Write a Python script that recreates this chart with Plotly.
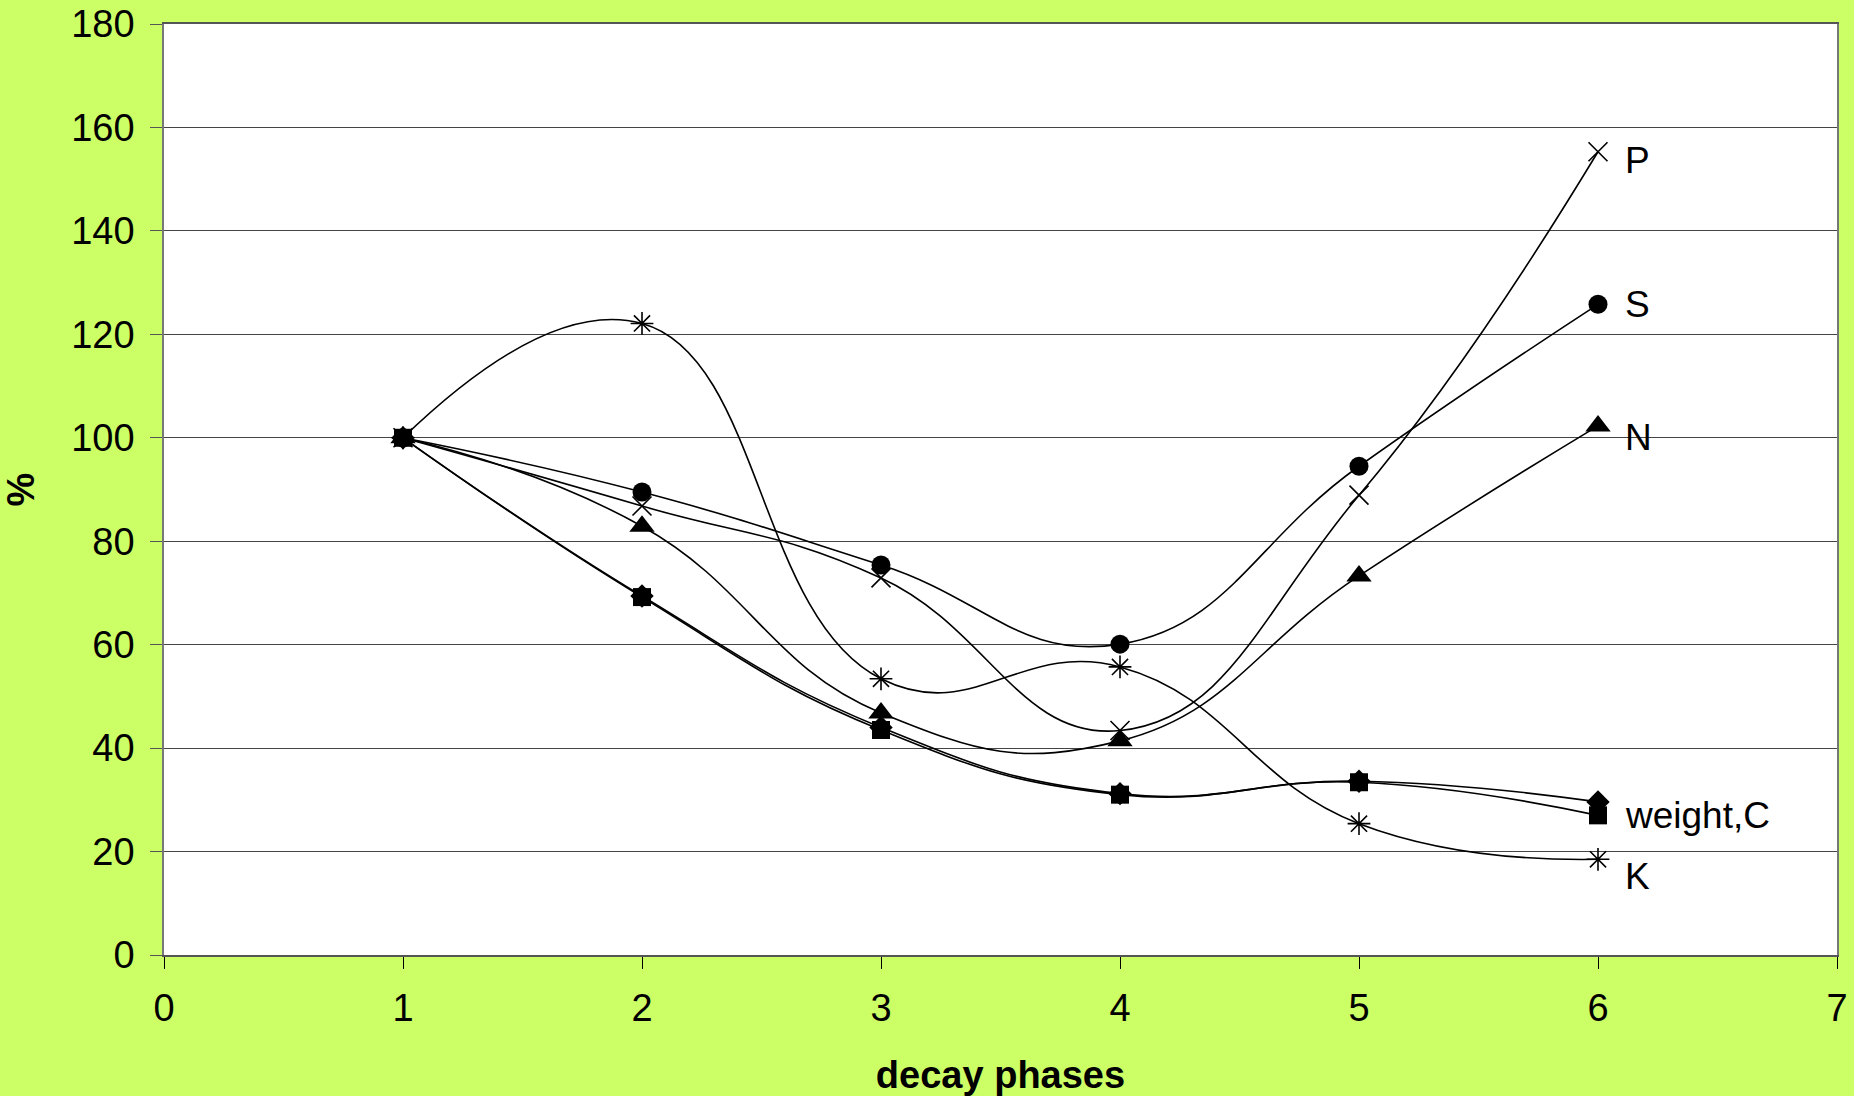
import plotly.graph_objects as go

# ---- data ----
phases = [1, 2, 3, 4, 5, 6]
P_vals = [100, 86.8, 72.9, 43.4, 88.9, 155.3]
S_vals = [100, 89.5, 75.4, 60.1, 94.5, 125.8]
N_vals = [100, 82.9, 46.8, 41.4, 73.3, 102.3]
K_vals = [100, 122.1, 53.4, 55.7, 25.4, 18.5]
weight_vals = [100, 69.4, 44.0, 31.2, 33.6, 29.6]
C_vals = [100, 69.2, 43.5, 31.0, 33.4, 27.0]

x_ticks = [0, 1, 2, 3, 4, 5, 6, 7]
y_ticks = [0, 20, 40, 60, 80, 100, 120, 140, 160, 180]

labels = ["P", "S", "N", "weight,C", "K"]
label_y = [153.7, 125.7, 100.0, 26.9, 15.1]

FONT = "Arial, 'Liberation Sans', sans-serif"
BG = "#CCFF66"

fig = go.Figure()

def add(vals, name, symbol, size, open_=False):
    marker = dict(symbol=symbol, size=size, color="black")
    if open_:
        marker["line"] = dict(color="black", width=1.6)
    fig.add_trace(go.Scatter(
        x=phases, y=vals, name=name, mode="lines+markers",
        line=dict(color="black", width=1.6, shape="spline", smoothing=1.3),
        marker=marker, showlegend=False,
    ))

add(K_vals, "K", "asterisk-open", 19, True)
add(P_vals, "P", "x-thin-open", 19, True)
add(S_vals, "S", "circle", 19)
add(N_vals, "N", "triangle-up", 22)
add(weight_vals, "weight", "diamond", 18)
add(C_vals, "C", "square", 18)

for t, yv in zip(labels, label_y):
    fig.add_annotation(x=6, y=yv, text=t, showarrow=False, xanchor="left",
                       yanchor="middle", xshift=25,
                       font=dict(family=FONT, size=37, color="black"))

fig.update_layout(
    width=1854, height=1096,
    margin=dict(l=164, r=17, t=24, b=141),
    paper_bgcolor=BG, plot_bgcolor="white",
    font=dict(family=FONT, size=38, color="black"),
    xaxis=dict(
        range=[0, 7], tickmode="array", tickvals=x_ticks,
        ticks="outside", ticklen=12, tickcolor="black", tickwidth=1,
        ticklabelstandoff=6,
        showgrid=False, zeroline=False, automargin=False,
        showline=True, linecolor="#555555", linewidth=2, mirror=True,
        tickfont=dict(size=38),
        title=dict(text="<b>decay phases</b>", font=dict(size=38), standoff=34),
    ),
    yaxis=dict(
        range=[0, 180], tickmode="array", tickvals=y_ticks,
        ticks="outside", ticklen=12, tickcolor="#555555", tickwidth=1,
        ticklabelstandoff=8,
        showgrid=True, gridcolor="#444444", gridwidth=1, zeroline=False,
        automargin=False,
        showline=True, linecolor="#777777", linewidth=1.5, mirror=True,
        tickfont=dict(size=38),
        title=dict(text="<b>%</b>", font=dict(size=38), standoff=30),
    ),
)

fig.write_html("out.html")
